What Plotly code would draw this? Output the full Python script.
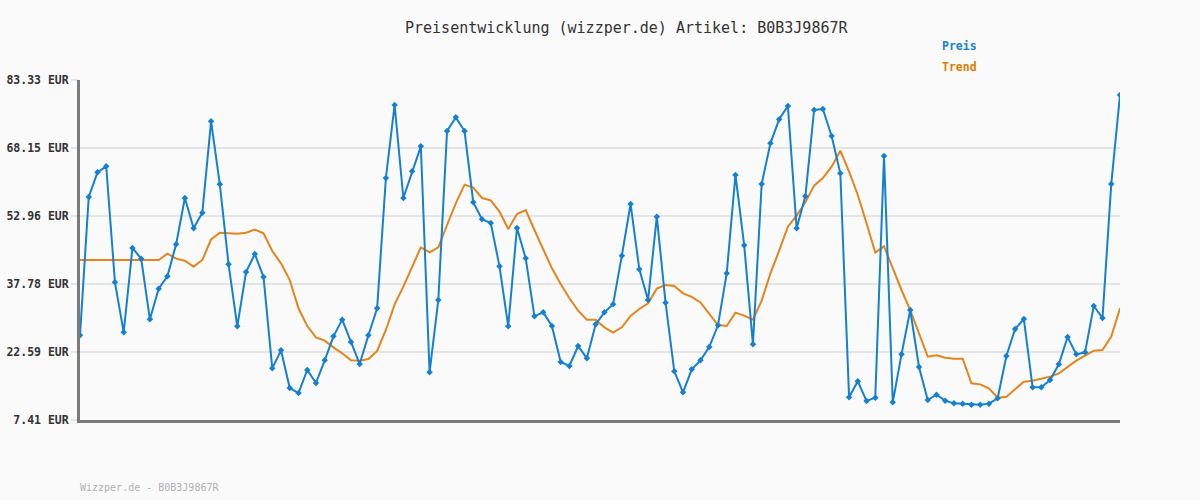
import plotly.graph_objects as go

title_text = "Preisentwicklung (wizzper.de) Artikel: B0B3J9867R"
footer_text = "Wizzper.de - B0B3J9867R"

preis = [26.32, 57.20, 62.71, 64.05, 38.15, 26.99, 45.82, 43.44, 29.89, 36.74,
         39.49, 46.64, 56.98, 50.21, 53.71, 74.10, 60.03, 42.17, 28.33, 40.46,
         44.48, 39.34, 18.95, 22.97, 14.56, 13.44, 18.58, 15.67, 20.73, 26.09,
         29.82, 24.83, 19.92, 26.32, 32.35, 61.45, 77.75, 56.98, 62.94, 68.52,
         18.05, 34.21, 71.94, 74.99, 71.94, 56.01, 52.22, 51.40, 41.72, 28.33,
         50.28, 43.51, 30.56, 31.45, 28.40, 20.36, 19.47, 23.93, 21.18, 28.77,
         31.45, 33.24, 44.11, 55.64, 41.05, 34.21, 52.81, 33.61, 18.28, 13.59,
         18.72, 20.73, 23.71, 28.55, 40.16, 62.12, 46.41, 24.31, 60.11, 69.19,
         74.55, 77.52, 50.21, 57.35, 76.63, 76.85, 70.83, 62.49, 12.47, 16.05,
         11.65, 12.40, 66.36, 11.36, 22.07, 31.97, 19.25, 11.88, 13.07, 11.73,
         11.13, 11.06, 10.83, 10.83, 11.06, 12.25, 21.70, 27.73, 29.96, 14.71,
         14.71, 16.34, 19.84, 25.94, 22.07, 22.52, 32.87, 30.19, 60.11, 79.98]

trend = [43.14, 43.14, 43.14, 43.14, 43.14, 43.14, 43.14, 43.14, 43.14, 43.14,
         44.55, 43.44, 42.99, 41.65, 43.14, 47.75, 49.24, 49.17, 49.02, 49.24,
         49.91, 49.09, 45.15, 42.39, 38.67, 32.35, 28.40, 25.87, 25.13, 23.64,
         22.30, 20.74, 20.66, 21.03, 22.82, 27.51, 33.24, 37.18, 41.50, 45.97,
         44.85, 45.97, 50.95, 55.79, 59.96, 59.29, 56.98, 56.46, 53.93, 50.06,
         53.41, 54.30, 49.84, 45.59, 41.28, 37.78, 34.58, 31.82, 29.82, 29.82,
         28.10, 26.91, 28.10, 30.63, 32.20, 33.46, 36.74, 37.56, 37.33, 35.70,
         34.92, 33.65, 31.23, 28.62, 28.40, 31.38, 30.71, 29.82, 34.06, 40.16,
         45.22, 50.58, 53.04, 56.01, 59.74, 61.45, 63.98, 67.55, 62.86, 57.65,
         51.33, 44.78, 46.19, 41.28, 36.44, 31.97, 26.76, 21.55, 21.85, 21.33,
         21.11, 21.11, 15.60, 15.37, 14.48, 12.40, 12.62, 14.26, 15.97, 16.19,
         16.72, 17.09, 17.83, 19.32, 20.66, 21.78, 22.89, 23.04, 26.02, 32.35]

y_ticks = [7.41, 22.59, 37.78, 52.96, 68.15, 83.33]
y_tick_labels = ["7.41 EUR", "22.59 EUR", "37.78 EUR", "52.96 EUR", "68.15 EUR", "83.33 EUR"]

x = list(range(len(preis)))

blue = "#1580d0"
orange = "#e3851c"
mono = "DejaVu Sans Mono"

fig = go.Figure()
fig.add_trace(go.Scatter(x=x, y=trend, mode="lines", name="Trend",
                         line=dict(color=orange, width=2)))
fig.add_trace(go.Scatter(x=x, y=preis, mode="lines+markers", name="Preis",
                         line=dict(color=blue, width=2),
                         marker=dict(symbol="diamond", size=5, color=blue)))

fig.update_layout(
    width=1200, height=500,
    margin=dict(l=80, r=80, t=80, b=80, autoexpand=False),
    paper_bgcolor="#fafafa", plot_bgcolor="#fafafa",
    showlegend=False,
    font=dict(family=mono, color="#333333"),
    xaxis=dict(range=[0, len(preis) - 1], showgrid=False, zeroline=False,
               showticklabels=False, ticks="", showline=True, automargin=False,
               linecolor="#7a7a7a", linewidth=3),
    yaxis=dict(range=[y_ticks[0], y_ticks[-1]], tickvals=y_ticks,
               ticktext=["<b>%s</b>" % t for t in y_tick_labels],
               tickfont=dict(family=mono, size=11.5, color="#333333"),
               showgrid=True, gridcolor="#e4e4e4", gridwidth=2, automargin=False,
               zeroline=False, showline=True, linecolor="#7a7a7a", linewidth=3,
               ticks="outside", ticklen=6, tickcolor="#e4e4e4", tickwidth=2),
    annotations=[
        dict(text=title_text, xref="paper", yref="paper",
             x=(403 - 80) / 1040, y=1 + (80 - 28) / 340, xanchor="left", yanchor="middle",
             showarrow=False, font=dict(family=mono, size=15, color="#333333")),
        dict(text="<b>Preis</b>", xref="paper", yref="paper",
             x=(940 - 80) / 1040, y=1 + (80 - 46) / 340, xanchor="left", yanchor="middle",
             showarrow=False, font=dict(family=mono, size=11.5, color=blue)),
        dict(text="<b>Trend</b>", xref="paper", yref="paper",
             x=(940 - 80) / 1040, y=1 + (80 - 67) / 340, xanchor="left", yanchor="middle",
             showarrow=False, font=dict(family=mono, size=11.5, color="#e07b00")),
        dict(text=footer_text, xref="paper", yref="paper",
             x=-2 / 1040, y=-(487 - 420) / 340, xanchor="left", yanchor="middle",
             showarrow=False, font=dict(family=mono, size=10, color="#b0b0b0")),
    ],
)

fig.write_html("out.html", config={"displayModeBar": False},
               post_script="document.body.style.margin='0';document.body.style.background='#fafafa';")
